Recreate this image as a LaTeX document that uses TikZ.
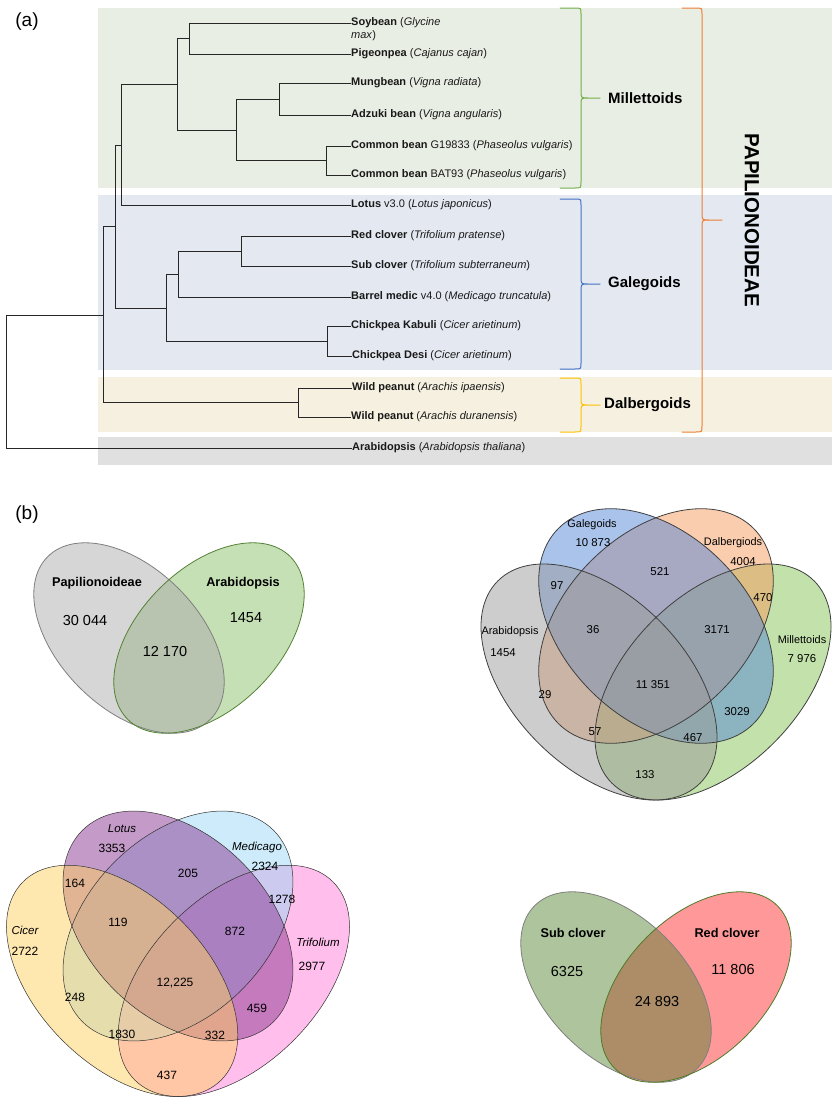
\documentclass[tikz,border=0pt]{standalone}
\usepackage{fontspec}
\setmainfont{Liberation Sans}
\definecolor{bandgreen}{HTML}{E9EEE4}
\definecolor{bandblue}{HTML}{E4E8F1}
\definecolor{bandbeige}{HTML}{F5F0E0}
\definecolor{bandgray}{HTML}{E0E0E0}
\definecolor{brgreen}{HTML}{70AD47}
\definecolor{brblue}{HTML}{4472C4}
\definecolor{bryellow}{HTML}{FFC000}
\definecolor{brorange}{HTML}{ED7D31}
\definecolor{vgray}{HTML}{D6D6D6}
\definecolor{vgrayline}{HTML}{7F7F7F}
\definecolor{vgreen}{HTML}{C5E0B4}
\definecolor{vgreenline}{HTML}{548235}
\definecolor{vinter}{HTML}{B8C4B0}
\definecolor{subfill}{HTML}{ADC49C}
\definecolor{redfill}{HTML}{FF9999}
\definecolor{subred}{HTML}{AC8D68}
\definecolor{redline}{HTML}{4F7A28}
\definecolor{qgray}{HTML}{9B9B9B}
\definecolor{qblue}{HTML}{5587D7}
\definecolor{qorange}{HTML}{F59B5F}
\definecolor{qgreen}{HTML}{87C355}
\definecolor{cicer}{HTML}{FFD15F}
\definecolor{lotus}{HTML}{893791}
\definecolor{medic}{HTML}{9BD7F5}
\definecolor{trif}{HTML}{FF7DD7}
\newcommand{\cbrace}[6]{%
  \draw[#1, line width=1pt, line join=round, line cap=round]
   (#2,#5) -- (#3-6,#5) .. controls (#3,#5) .. (#3,#5+6)
   -- (#3,{(#5+#6)/2-7}) .. controls (#3,{(#5+#6)/2}) .. (#3+7,{(#5+#6)/2}) -- (#4,{(#5+#6)/2})
   (#3+7,{(#5+#6)/2}) .. controls (#3,{(#5+#6)/2}) .. (#3,{(#5+#6)/2+7})
   -- (#3,#6-6) .. controls (#3,#6) .. (#3-6,#6) -- (#2,#6);}
\newcommand{\qvenn}[7]{% shift, scale, outer-left, inner-left, inner-right, outer-right, outline
  \begin{scope}[shift={#1}, scale=#2]
    \fill[#6, fill opacity=0.5, rotate around={45:(57,56)}] (57,56) ellipse [x radius=143, y radius=86];
    \fill[#5, fill opacity=0.5, rotate=45] (0,0) ellipse [x radius=138, y radius=92];
    \fill[#4, fill opacity=0.5, rotate=-45] (0,0) ellipse [x radius=138, y radius=92];
    \fill[#3, fill opacity=0.5, rotate around={-45:(-57,56)}] (-57,56) ellipse [x radius=143, y radius=86];
    \draw[#7, rotate around={45:(57,56)}] (57,56) ellipse [x radius=143, y radius=86];
    \draw[#7, rotate=45] (0,0) ellipse [x radius=138, y radius=92];
    \draw[#7, rotate=-45] (0,0) ellipse [x radius=138, y radius=92];
    \draw[#7, rotate around={-45:(-57,56)}] (-57,56) ellipse [x radius=143, y radius=86];
  \end{scope}}
\begin{document}
\begin{tikzpicture}[x=1pt, y=-1pt,
  leaf/.style={anchor=west, inner sep=0pt, font=\fontsize{11}{13}\selectfont, text=black!90},
  clade/.style={anchor=west, inner sep=0pt, font=\fontsize{15}{18}\selectfont\bfseries},
  treeline/.style={line width=0.9pt, black!85},
  panel/.style={inner sep=0pt, font=\fontsize{19}{22}\selectfont},
  vlab/.style={inner sep=0pt, font=\fontsize{12.7}{15}\selectfont\bfseries},
  vnum/.style={inner sep=0pt, font=\fontsize{14.5}{17}\selectfont},
  qlab/.style={inner sep=0pt, font=\fontsize{10.9}{13}\selectfont},
  qnum/.style={inner sep=0pt, font=\fontsize{11.4}{13}\selectfont},
  clab/.style={inner sep=0pt, font=\fontsize{11.5}{13}\selectfont\itshape},
  cnum/.style={inner sep=0pt, font=\fontsize{12}{14}\selectfont}]
\useasboundingbox (0,0) rectangle (835,1100);

% ---------- (a) ----------
\node[panel] (pa) at (27,22) {(a)};
\fill[bandgreen] (98,8) rectangle (832,188);
\fill[bandblue] (98,195) rectangle (832,370);
\fill[bandbeige] (98,377) rectangle (832,432);
\fill[bandgray] (98,437) rectangle (832,465);

\node[leaf] (soy) at (351,23) {\textbf{Soybean} (\textit{Glycine}};
\node[leaf] (soymax) at (351,36) {\textit{max})};
\node[leaf] (pig) at (351,54) {\textbf{Pigeonpea} (\textit{Cajanus cajan})};
\node[leaf] (mung) at (351,83) {\textbf{Mungbean} (\textit{Vigna radiata})};
\node[leaf] (adz) at (351,115) {\textbf{Adzuki bean} (\textit{Vigna angularis})};
\node[leaf] (cb1) at (351,146) {\textbf{Common bean} G19833 (\textit{Phaseolus vulgaris})};
\node[leaf] (cb2) at (351,175) {\textbf{Common bean} BAT93 (\textit{Phaseolus vulgaris})};
\node[leaf] (lot) at (351,205) {\textbf{Lotus} v3.0 (\textit{Lotus japonicus})};
\node[leaf] (red) at (351,236) {\textbf{Red clover} (\textit{Trifolium pratense})};
\node[leaf] (sub) at (351,266) {\textbf{Sub clover} (\textit{Trifolium subterraneum})};
\node[leaf] (bar) at (351,297) {\textbf{Barrel medic} v4.0 (\textit{Medicago truncatula})};
\node[leaf] (kab) at (351,326) {\textbf{Chickpea Kabuli} (\textit{Cicer arietinum})};
\node[leaf] (desi) at (352,356) {\textbf{Chickpea Desi} (\textit{Cicer arietinum})};
\node[leaf] (wp1) at (352,388) {\textbf{Wild peanut} (\textit{Arachis ipaensis})};
\node[leaf] (wp2) at (351,417) {\textbf{Wild peanut} (\textit{Arachis duranensis})};
\node[leaf] (arab) at (352,448) {\textbf{Arabidopsis} (\textit{Arabidopsis thaliana})};

\coordinate (nSP) at (189,38.5);
\coordinate (nMA) at (279,99);
\coordinate (nCB) at (326,160.5);
\coordinate (nV) at (236,130);
\coordinate (nMil) at (177,84);
\coordinate (nML) at (121,145);
\coordinate (nRS) at (241,251);
\coordinate (nTM) at (178,274);
\coordinate (nCK) at (327,341);
\coordinate (nGal) at (166,308);
\coordinate (nMG) at (115,226.5);
\coordinate (nWP) at (298,402.5);
\coordinate (nPap) at (103,315);
\coordinate (root) at (6,381.5);

\draw[treeline] (nSP) |- (soy.west) (nSP) |- (pig.west);
\draw[treeline] (nMA) |- (mung.west) (nMA) |- (adz.west);
\draw[treeline] (nCB) |- (cb1.west) (nCB) |- (cb2.west);
\draw[treeline] (nV) |- (nMA) (nV) |- (nCB);
\draw[treeline] (nMil) |- (nSP) (nMil) |- (nV);
\draw[treeline] (nML) |- (nMil) (nML) |- (lot.west);
\draw[treeline] (nRS) |- (red.west) (nRS) |- (sub.west);
\draw[treeline] (nTM) |- (nRS) (nTM) |- (bar.west);
\draw[treeline] (nCK) |- (kab.west) (nCK) |- (desi.west);
\draw[treeline] (nGal) |- (nTM) (nGal) |- (nCK);
\draw[treeline] (nMG) |- (nML) (nMG) |- (nGal);
\draw[treeline] (nWP) |- (wp1.west) (nWP) |- (wp2.west);
\draw[treeline] (nPap) |- (nMG) (nPap) |- (nWP);
\draw[treeline] (root) |- (nPap) (root) |- (arab.west);

\cbrace{brgreen}{560}{581}{600}{8}{188}
\cbrace{brblue}{560}{581}{600}{199}{369}
\cbrace{bryellow}{560}{581}{600}{378}{432}
\cbrace{brorange}{682}{702}{722}{8}{432}
\node[clade] (mil) at (608,98) {Millettoids};
\node[clade] (gal) at (608,284) {Galegoids};
\node[clade] (dal) at (604,405) {Dalbergoids};
\node[inner sep=0pt, rotate=-90, font=\fontsize{20.5}{24}\selectfont\bfseries] (pap) at (752,220) {PAPILIONOIDEAE};

% ---------- (b) ----------
\node[panel] (pb) at (27,515) {(b)};

% Venn 1
\fill[vgray, rotate around={-45:(129,638)}] (129,638) ellipse [x radius=115, y radius=70];
\fill[vgreen, rotate around={45:(209,638)}] (209,638) ellipse [x radius=115, y radius=70];
\begin{scope}
  \clip[rotate around={-45:(129,638)}] (129,638) ellipse [x radius=115, y radius=70];
  \fill[vinter, rotate around={45:(209,638)}] (209,638) ellipse [x radius=115, y radius=70];
\end{scope}
\draw[vgrayline, line width=0.8pt, rotate around={-45:(129,638)}] (129,638) ellipse [x radius=115, y radius=70];
\draw[vgreenline, line width=0.8pt, rotate around={45:(209,638)}] (209,638) ellipse [x radius=115, y radius=70];
\node[vlab] (v1a) at (97,583) {Papilionoideae};
\node[vlab] (v1b) at (243,583) {Arabidopsis};
\node[vnum] (v1n1) at (85,621) {30 044};
\node[vnum] (v1n2) at (246,618) {1454};
\node[vnum] (v1n3) at (165,651) {12 170};

% Venn 2 (four sets)
\qvenn{(656,626)}{1}{qgray}{qblue}{qorange}{qgreen}{black!75, line width=0.8pt}
\node[qlab] (q2a) at (592,525) {Galegoids};
\node[qnum] (q2b) at (593,543) {10 873};
\node[qlab] (q2c) at (733,543) {Dalbergiods};
\node[qnum] (q2d) at (743,562) {4004};
\node[qnum] (q2e) at (660,572) {521};
\node[qnum] (q2f) at (557,586) {97};
\node[qnum] (q2g) at (763,598) {470};
\node[qlab] (q2h) at (510,632) {Arabidopsis};
\node[qnum] (q2i) at (503,653) {1454};
\node[qnum] (q2j) at (593,630) {36};
\node[qnum] (q2k) at (717,630) {3171};
\node[qlab] (q2l) at (802,640) {Millettoids};
\node[qnum] (q2m) at (802,659) {7 976};
\node[qnum] (q2n) at (653,685) {11 351};
\node[qnum] (q2o) at (545,695) {29};
\node[qnum] (q2p) at (737,712) {3029};
\node[qnum] (q2q) at (595,732) {57};
\node[qnum] (q2r) at (693,738) {467};
\node[qnum] (q2s) at (645,775) {133};

% Venn 3 (four sets)
\qvenn{(178,926)}{0.98}{cicer}{lotus}{medic}{trif}{black!80, line width=0.5pt}
\node[clab] (q3a) at (122,829) {Lotus};
\node[cnum] (q3b) at (112,848) {3353};
\node[clab] (q3c) at (257,848) {Medicago};
\node[cnum] (q3d) at (265,866) {2324};
\node[cnum] (q3e) at (188,873) {205};
\node[cnum] (q3f) at (75,883) {164};
\node[cnum] (q3g) at (282,899) {1278};
\node[cnum] (q3h) at (118,922) {119};
\node[clab] (q3i) at (25,930) {Cicer};
\node[cnum] (q3j) at (235,931) {872};
\node[clab] (q3k) at (318,942) {Trifolium};
\node[cnum] (q3l) at (25,951) {2722};
\node[cnum] (q3m) at (312,966) {2977};
\node[cnum] (q3n) at (175,983) {12,225};
\node[cnum] (q3o) at (75,997) {248};
\node[cnum] (q3p) at (257,1008) {459};
\node[cnum] (q3q) at (122,1034) {1830};
\node[cnum] (q3r) at (215,1035) {332};
\node[cnum] (q3s) at (167,1075) {437};

% Venn 4
\fill[subfill, rotate around={-45:(616,987)}] (616,987) ellipse [x radius=115, y radius=70];
\fill[redfill, rotate around={45:(696,987)}] (696,987) ellipse [x radius=115, y radius=70];
\begin{scope}
  \clip[rotate around={-45:(616,987)}] (616,987) ellipse [x radius=115, y radius=70];
  \fill[subred, rotate around={45:(696,987)}] (696,987) ellipse [x radius=115, y radius=70];
\end{scope}
\draw[vgrayline, line width=0.8pt, rotate around={-45:(616,987)}] (616,987) ellipse [x radius=115, y radius=70];
\draw[redline, line width=0.8pt, rotate around={45:(696,987)}] (696,987) ellipse [x radius=115, y radius=70];
\node[vlab] (v4a) at (573,933) {Sub clover};
\node[vlab] (v4b) at (727,933) {Red clover};
\node[vnum] (v4n1) at (567,971) {6325};
\node[vnum] (v4n2) at (733,969) {11 806};
\node[vnum] (v4n3) at (657,1001) {24 893};
\end{tikzpicture}
\end{document}
